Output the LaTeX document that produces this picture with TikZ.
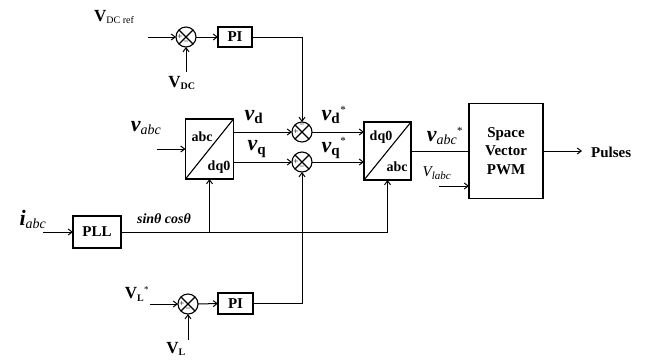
\documentclass[tikz,border=0pt]{standalone}
\usepackage{fontspec}
\setmainfont{Liberation Serif}
\usetikzlibrary{arrows.meta,calc}
\newcommand{\fs}[1]{\fontsize{#1}{#1}\selectfont}
\tikzset{
  blk/.style={draw, line width=1.1pt, inner sep=0pt, outer sep=0pt, font=\fs{15}\bfseries},
  sumj/.style={draw, circle, line width=1.1pt, minimum size=20pt, inner sep=0pt, outer sep=0pt},
  wire/.style={line width=1pt},
  arr/.style={wire, -{Straight Barb[length=4pt,width=6pt,line width=1pt]}},
  sgn/.style={inner sep=0pt, font=\fs{9}},
  lbl/.style={inner sep=0pt, font=\fs{15}},
}
\newcommand{\crossit}[1]{%
  \draw[line width=1.1pt] (#1.north west) -- (#1.south east) (#1.north east) -- (#1.south west);}
\begin{document}
\begin{tikzpicture}[x=1pt,y=-1pt]
\useasboundingbox (0,0) rectangle (645,362);

% summing junctions
\node[sumj] (s1) at (186,37) {};
\node[sumj] (sd) at (302,132) {};
\node[sumj] (sq) at (302,162) {};
\node[sumj] (s3) at (188,304) {};
\crossit{s1}\crossit{sd}\crossit{sq}\crossit{s3}
\node[sgn] (p1) at ($(s1.center)+(-6,0)$) {+};
\node[sgn] (m1) at ($(s1.center)+(0,6)$) {\textminus};
\node[sgn] (p2) at ($(sd.center)+(-6,0)$) {+};
\node[sgn] (m2) at ($(sd.center)+(0,-6)$) {\textminus};
\node[sgn] (p3) at ($(sq.center)+(-6,0)$) {+};
\node[sgn] (m3) at ($(sq.center)+(0,6)$) {\textminus};
\node[sgn] (p4) at ($(s3.center)+(-6,0)$) {+};
\node[sgn] (m4) at ($(s3.center)+(0,6)$) {\textminus};

% blocks
\node[blk, minimum width=34pt, minimum height=20pt] (pi1) at (235,37) {PI};
\node[blk, minimum width=35pt, minimum height=21pt] (pi2) at (235.5,303.5) {PI};
\node[blk, minimum width=48pt, minimum height=32pt] (pll) at (97,232) {PLL};
\node[blk, minimum width=48pt, minimum height=60pt] (cvt1) at (209.5,149) {};
\node[blk, minimum width=47pt, minimum height=58pt] (cvt2) at (387.5,151) {};
\node[blk, minimum width=74pt, minimum height=95pt, align=center, font=\fs{15}\bfseries\linespread{1.25}\selectfont] (pwm) at (506,151) {Space\\Vector\\PWM};
\draw[line width=1.1pt] (cvt1.south west) -- (cvt1.north east);
\draw[line width=1.1pt] (cvt2.south west) -- (cvt2.north east);
\node[lbl, font=\fs{14}\bfseries] (t1) at (202,137) {abc};
\node[lbl, font=\fs{14}\bfseries] (t2) at (219,167) {dq0};
\node[lbl, font=\fs{14}\bfseries] (t3) at (381,137) {dq0};
\node[lbl, font=\fs{14}\bfseries] (t4) at (397,167) {abc};

% free ends
\coordinate (in1) at (148,37);
\coordinate (invdc) at (186,72);
\coordinate (invabc) at (157,149);
\coordinate (iniabc) at (43,232);
\coordinate (invl) at (150,304);
\coordinate (invlv) at (188,340);
\coordinate (invlabc) at (439,186);
\coordinate (outp) at (582,151);

% connectors
\draw[arr] (in1) -- (s1.west);
\draw[arr] (invdc) -- (s1.south);
\draw[arr] (s1.east) -- (pi1.west);
\draw[arr] (pi1.east) -| (sd.north);
\draw[arr] (invabc) -- (cvt1.west);
\draw[arr] (cvt1.east |- sd.west) -- (sd.west);
\draw[arr] (cvt1.east |- sq.west) -- (sq.west);
\draw[arr] (sd.east) -- (cvt2.west |- sd.east);
\draw[arr] (sq.east) -- (cvt2.west |- sq.east);
\draw[wire] (cvt2.east) -- (pwm.west);
\draw[arr] (invlabc) -- (pwm.west |- invlabc);
\draw[arr] (pwm.east) -- (outp);
\draw[arr] (iniabc) -- (pll.west);
\draw[arr] (pll.east) -| (cvt2.south);
\draw[arr] (cvt1.south |- pll.east) -- (cvt1.south);
\draw[arr] (invl) -- (s3.west);
\draw[arr] (invlv) -- (s3.south);
\draw[arr] (s3.east) -- (pi2.west);
\draw[arr] (pi2.east) -| (sq.south);

% labels
\node[lbl, anchor=west] (lvdcref) at (94,17) {\fs{17}\textbf{V}\textsubscript{\fs{10}DC ref}};
\node[lbl] (lvdc) at (182,83) {\fs{17}\textbf{V}\textsubscript{\fs{10}\bfseries DC}};
\node[lbl] (lvabc) at (146,128) {\fs{22}\bfseries\itshape v\textsubscript{\fs{14}\mdseries abc}};
\node[lbl] (lvd) at (254,117) {\fs{22}\bfseries\itshape v\textsubscript{\fs{15}\upshape d}};
\node[lbl] (lvq) at (257,149) {\fs{22}\bfseries\itshape v\textsubscript{\fs{15}\upshape q}};
\node[lbl] (lvds) at (334,115) {\fs{22}\bfseries\itshape v\textsubscript{\fs{15}\upshape d}\textsuperscript{\fs{11}\mdseries\upshape *}};
\node[lbl] (lvqs) at (334,148) {\fs{22}\bfseries\itshape v\textsubscript{\fs{15}\upshape q}\textsuperscript{\fs{11}\mdseries\upshape *}};
\node[lbl] (lvabcs) at (445,136) {\fs{22}\bfseries\itshape v\textsubscript{\fs{14}\mdseries abc}\textsuperscript{\fs{11}\mdseries\upshape *}};
\node[lbl] (lvlabc) at (437,173) {\itshape V\textsubscript{\fs{11}labc}};
\node[lbl] (liabc) at (33,219) {\fs{22}\bfseries\itshape i\textsubscript{\fs{14}\mdseries abc}};
\node[lbl] (lsin) at (164,219) {\fs{14}\bfseries\itshape sinθ cosθ};
\node[lbl] (lvls) at (137,294) {\fs{17}\textbf{V}\textsubscript{\fs{10}\bfseries L}\textsuperscript{\fs{9}*}};
\node[lbl] (lvl) at (176,349) {\fs{17}\textbf{V}\textsubscript{\fs{10}\bfseries L}};
\node[lbl, anchor=west, font=\fs{15}\bfseries] (lpulses) at (591,152) {Pulses};
\end{tikzpicture}
\end{document}
